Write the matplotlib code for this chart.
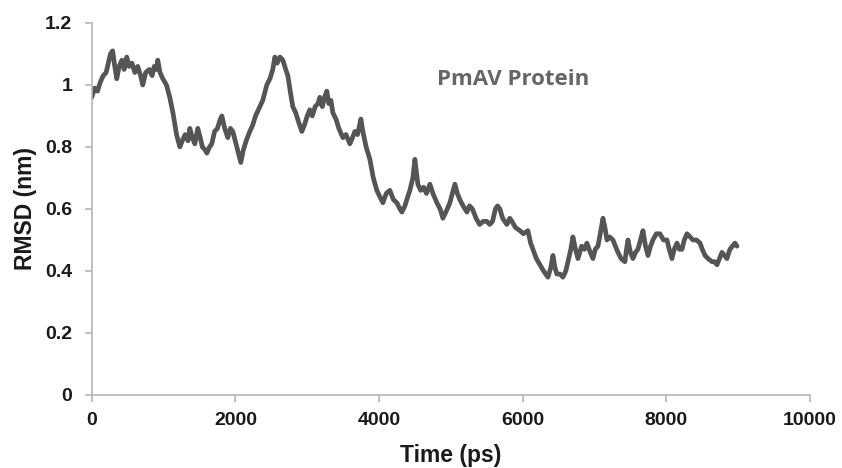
import matplotlib.pyplot as plt

# RMSD trace (time in ps, rmsd in nm)
time_ps = [0, 40, 80, 120, 160, 200, 230, 260, 290, 320, 348, 380, 420, 450, 487, 520, 560,
           600, 640, 680, 710, 750, 800, 840, 870, 900, 919, 950, 989,
           1040, 1086, 1130, 1180, 1226, 1260, 1300, 1340, 1365, 1400, 1435, 1476, 1510,
           1540, 1580, 1602, 1640, 1671, 1710, 1750, 1790, 1811, 1850, 1894, 1930, 1964,
           2020, 2075,
           2110, 2150, 2200, 2240, 2280, 2340, 2380, 2437, 2480, 2520, 2549, 2580, 2620,
           2660, 2700, 2730, 2770, 2799, 2840, 2880, 2925, 2960, 3000, 3036,
           3070, 3110, 3150, 3175, 3210, 3240, 3273, 3300, 3330, 3357, 3400, 3440, 3496,
           3540, 3593, 3630, 3663, 3700, 3747, 3774, 3820, 3872, 3920, 3969, 4010,
           4053, 4100, 4150, 4200, 4248, 4290, 4318, 4360, 4400, 4429, 4470, 4499, 4520,
           4540, 4580, 4620, 4660, 4708, 4750, 4805, 4850, 4889, 4930, 4986, 5020, 5056, 5090,
           5125, 5170, 5223, 5260, 5300, 5350, 5400, 5450, 5500, 5540, 5580, 5620, 5650,
           5682, 5720, 5780, 5820, 5850, 5900, 5961, 6010, 6072,
           6110, 6142, 6190, 6240, 6290, 6351, 6390, 6421, 6450, 6476, 6520, 6560, 6600,
           6630, 6670, 6699, 6735, 6769, 6820, 6860, 6894, 6940, 6978, 7010, 7047, 7080,
           7117, 7145, 7173,
           7210, 7256, 7290, 7326, 7370, 7423, 7445, 7465, 7500, 7535, 7570, 7604, 7640,
           7674, 7710, 7744, 7780, 7813, 7860, 7911, 7960, 8008,
           8040, 8078, 8110, 8148, 8180, 8217, 8250, 8287, 8330, 8370, 8420, 8468, 8500,
           8538, 8580, 8635, 8670, 8705, 8740, 8774, 8810, 8844, 8870, 8886, 8920, 8955, 8983]
rmsd_nm = [0.96, 0.99, 0.98, 1.01, 1.03, 1.04, 1.07, 1.10, 1.11, 1.06, 1.02, 1.06, 1.08, 1.05,
           1.09, 1.06, 1.07, 1.04, 1.06, 1.03, 1.00, 1.04, 1.05, 1.03, 1.06, 1.05, 1.08, 1.04,
           1.02,
           1.00, 0.96, 0.91, 0.84, 0.80, 0.82, 0.84, 0.82, 0.86, 0.83, 0.81, 0.86, 0.83,
           0.80, 0.79, 0.78, 0.80, 0.81, 0.85, 0.86, 0.89, 0.90, 0.86, 0.83, 0.86, 0.85,
           0.80, 0.75,
           0.79, 0.82, 0.85, 0.87, 0.90, 0.93, 0.95, 1.00, 1.02, 1.05, 1.09, 1.07, 1.09,
           1.08, 1.05, 1.03, 0.97, 0.93, 0.91, 0.88, 0.85, 0.87, 0.90, 0.92,
           0.90, 0.93, 0.94, 0.96, 0.93, 0.96, 0.98, 0.94, 0.95, 0.91, 0.89, 0.86, 0.83,
           0.84, 0.81, 0.83, 0.85, 0.84, 0.89, 0.85, 0.80, 0.76, 0.70, 0.66, 0.64,
           0.62, 0.65, 0.66, 0.63, 0.62, 0.60, 0.59, 0.61, 0.64, 0.66, 0.70, 0.76, 0.72,
           0.68, 0.66, 0.67, 0.65, 0.68, 0.65, 0.62, 0.60, 0.57, 0.59, 0.62, 0.65, 0.68, 0.65,
           0.63, 0.61, 0.59, 0.61, 0.60, 0.57, 0.55, 0.56, 0.56, 0.55, 0.56, 0.60, 0.61,
           0.60, 0.57, 0.55, 0.57, 0.56, 0.54, 0.53, 0.52, 0.53,
           0.49, 0.47, 0.44, 0.42, 0.40, 0.38, 0.41, 0.45, 0.41, 0.39, 0.39, 0.38, 0.40,
           0.43, 0.47, 0.51, 0.47, 0.44, 0.48, 0.47, 0.49, 0.46, 0.44, 0.47, 0.48, 0.52,
           0.57, 0.54, 0.50,
           0.51, 0.50, 0.48, 0.46, 0.44, 0.43, 0.47, 0.50, 0.46, 0.44, 0.46, 0.47, 0.50,
           0.53, 0.48, 0.45, 0.48, 0.50, 0.52, 0.52, 0.50, 0.50,
           0.47, 0.44, 0.47, 0.49, 0.47, 0.47, 0.50, 0.52, 0.51, 0.50, 0.50, 0.49, 0.47,
           0.45, 0.44, 0.43, 0.43, 0.42, 0.44, 0.46, 0.45, 0.44, 0.46, 0.47, 0.48, 0.49, 0.48]

x_ticks = [0, 2000, 4000, 6000, 8000, 10000]
y_ticks = [0, 0.2, 0.4, 0.6, 0.8, 1, 1.2]
y_tick_labels = ["0", "0.2", "0.4", "0.6", "0.8", "1", "1.2"]

plt.rcParams['font.family'] = ['Liberation Sans', 'DejaVu Sans']

fig = plt.figure(figsize=(8.42, 4.68), dpi=100)
ax = fig.add_axes([0.109, 0.156, 0.853, 0.795])

ax.plot(time_ps, rmsd_nm, color='#555555', linewidth=3.4,
        solid_joinstyle='round', solid_capstyle='round')

ax.set_xlim(0, 10000)
ax.set_ylim(0, 1.2)
ax.set_xticks(x_ticks)
ax.set_yticks(y_ticks)
ax.set_yticklabels(y_tick_labels)

for side in ['top', 'right']:
    ax.spines[side].set_visible(False)
for side in ['left', 'bottom']:
    ax.spines[side].set_color('#b5b5b5')
    ax.spines[side].set_linewidth(1.2)

ax.tick_params(axis='both', colors='#b5b5b5', length=5, width=1.2,
               labelcolor='#1a1a1a', labelsize=14)
ax.tick_params(axis='x', pad=7)
ax.tick_params(axis='y', pad=9)
for lbl in ax.get_xticklabels() + ax.get_yticklabels():
    lbl.set_fontweight('bold')

ax.set_xlabel("Time (ps)", fontsize=16.5, fontweight='bold', color='#1a1a1a', labelpad=11)
ax.set_ylabel("RMSD (nm)", fontsize=16.5, fontweight='bold', color='#1a1a1a', labelpad=6)

fig.text(0.61, 0.83, "PmAV Protein", fontsize=16, fontweight='bold', color='#666666',
         family=['Open Sans', 'DejaVu Sans'], ha='center', va='center')

fig.savefig("out.png", dpi=100)
